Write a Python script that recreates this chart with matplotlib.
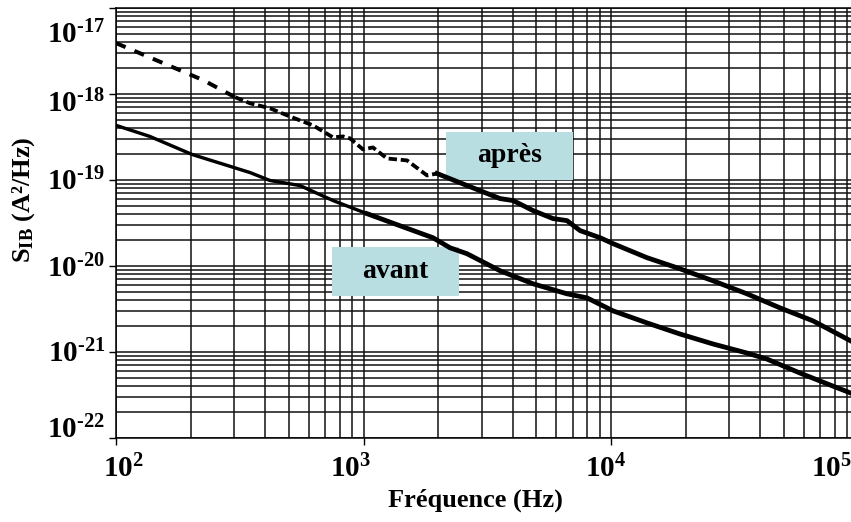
import numpy as np
import matplotlib
matplotlib.use("Agg")
import matplotlib.pyplot as plt
from matplotlib.ticker import LogLocator, NullFormatter
from matplotlib.patches import Rectangle

# ---- data ----
freq_avant = [100, 137, 203, 348, 419, 553, 753, 1033, 1403, 1909, 2235, 2618,
              3562, 4843, 6640, 7998, 10190, 13970, 18990, 25830, 35420, 42660,
              58030, 78890, 93300]
psd_avant = [4.32e-19, 3.21e-19, 1.98e-19, 1.22e-19, 9.87e-20, 8.63e-20, 5.77e-20,
             4.06e-20, 2.94e-20, 2.13e-20, 1.63e-20, 1.39e-20, 8.81e-21, 6.21e-21,
             4.75e-21, 4.26e-21, 3.01e-21, 2.18e-21, 1.62e-21, 1.24e-21, 9.73e-22,
             8.28e-22, 5.69e-22, 4.01e-22, 3.32e-22]

freq_apres = [100, 225, 303, 348, 419, 491, 553, 625, 686, 753, 826, 882, 995,
              1092, 1244, 1499, 1806, 1982, 2618, 3562, 4018, 4843, 5834, 6640,
              7500, 9040, 10190, 13970, 18990, 25830, 35420, 48170, 65500, 93300]
psd_apres = [3.91e-18, 1.45e-18, 9.17e-19, 7.80e-19, 6.82e-19, 5.65e-19, 4.94e-19,
             4.32e-19, 3.68e-19, 3.13e-19, 3.21e-19, 3.05e-19, 2.27e-19, 2.39e-19,
             1.78e-19, 1.69e-19, 1.13e-19, 1.19e-19, 8.63e-20, 6.08e-20, 5.77e-20,
             4.41e-20, 3.56e-20, 3.37e-20, 2.58e-20, 2.13e-20, 1.82e-20, 1.25e-20,
             9.29e-21, 6.73e-21, 4.75e-21, 3.26e-21, 2.30e-21, 1.34e-21]

labels = ["après", "avant"]
x_ticks = [1e2, 1e3, 1e4, 1e5]
x_tick_labels = [r"$10^{2}$", r"$10^{3}$", r"$10^{4}$", r"$10^{5}$"]
y_ticks = [1e-22, 1e-21, 1e-20, 1e-19, 1e-18, 1e-17]
y_tick_labels = [r"$10^{\text{-22}}$", r"$10^{\text{-21}}$", r"$10^{\text{-20}}$",
                 r"$10^{\text{-19}}$", r"$10^{\text{-18}}$", r"$10^{\text{-17}}$"]
x_label = "Fréquence (Hz)"
y_label = r"$S_{IB}$ (A²/Hz)"

# ---- style ----
plt.rcParams["font.family"] = ["Liberation Serif", "DejaVu Serif"]
plt.rcParams["font.weight"] = "bold"
plt.rcParams["axes.labelweight"] = "bold"
plt.rcParams["mathtext.fontset"] = "custom"
plt.rcParams["mathtext.rm"] = "Liberation Serif:bold"
plt.rcParams["mathtext.it"] = "Liberation Serif:bold"
plt.rcParams["mathtext.bf"] = "Liberation Serif:bold"
plt.rcParams["mathtext.default"] = "rm"

W, H = 851, 522
fig = plt.figure(figsize=(W / 100, H / 100), dpi=100)
ax = fig.add_axes([116 / W, 84 / H, 735 / W, 430 / H])
ax.set_xscale("log")
ax.set_yscale("log")
ax.set_xlim(100, 10 ** (2 + 735 / 247.5))
ax.set_ylim(1e-22, 1e-17)

ax.set_xticks([t for t in x_ticks if t <= 1e4])
ax.set_yticks(y_ticks)
ax.xaxis.set_minor_locator(LogLocator(base=10, subs=np.arange(2, 10), numticks=20))
ax.yaxis.set_minor_locator(LogLocator(base=10, subs=np.arange(2, 10), numticks=20))
ax.xaxis.set_minor_formatter(NullFormatter())
ax.yaxis.set_minor_formatter(NullFormatter())
ax.set_xticklabels([])
ax.set_yticklabels([])

ax.grid(which="both", color="#111111", lw=1.1)
ax.set_axisbelow(True)
ax.tick_params(which="minor", length=0)
ax.tick_params(which="major", length=5, width=1.0, direction="out",
               top=False, right=False)
ax.spines["right"].set_visible(False)
for s in ["left", "bottom", "top"]:
    ax.spines[s].set_linewidth(1.1)

# tick labels, placed as in the reference (slightly irregular offsets)
x_off = [7, -13, -5, -27]
for t, lab, dx in zip(x_ticks, x_tick_labels, x_off):
    ax.annotate(lab, xy=(t, 0), xycoords=("data", "axes fraction"),
                xytext=(dx, -39), textcoords="offset pixels",
                ha="center", va="baseline", fontsize=21, annotation_clip=False)
y_off = [0, 10, 11, 10, 18, 35]
for t, lab, dy in zip(y_ticks, y_tick_labels, y_off):
    ax.annotate(lab, xy=(0, t), xycoords=("axes fraction", "data"),
                xytext=(-11, -dy), textcoords="offset pixels",
                ha="right", va="baseline", fontsize=21, annotation_clip=False)

# ---- curves ----
fa = np.array(freq_avant); pa = np.array(psd_avant)
fp = np.array(freq_apres); pp = np.array(psd_apres)
px2pt = 0.72

m1 = fa <= 1033
m2 = fa >= 1033
ax.plot(fa[m1], pa[m1], color="black", lw=3.4 * px2pt, zorder=4)
ax.plot(fa[m2], pa[m2], color="black", lw=4.8 * px2pt, zorder=4)

s1 = fp <= 303
s2 = (fp >= 303) & (fp <= 1982)
s3 = fp >= 1982
ax.plot(fp[s1], pp[s1], color="black", lw=4 * px2pt, ls=(0, (2.6, 2.4)),
        dash_capstyle="butt", zorder=4)
ax.plot(fp[s2], pp[s2], color="black", lw=3.8 * px2pt, ls=(0, (2.2, 1.0)),
        dash_capstyle="butt", zorder=4)
ax.plot(fp[s3], pp[s3], color="black", lw=4.8 * px2pt, zorder=4)

# ---- label boxes ----
box_color = "#b8dee2"
boxes = [(0.449, 0.600, 0.173, 0.112), (0.294, 0.330, 0.173, 0.114)]
for (x0, y0, w, h), txt in zip(boxes, labels):
    ax.add_patch(Rectangle((x0, y0), w, h, transform=ax.transAxes,
                           facecolor=box_color, edgecolor="none", zorder=3))
    ax.text(x0 + w / 2, y0 + h / 2, txt, transform=ax.transAxes,
            ha="center", va="center", fontsize=20, fontweight="bold", zorder=5)

ax.set_xlabel(x_label, fontsize=19, fontweight="bold")
ax.set_ylabel(y_label, fontsize=19, fontweight="bold")
ax.xaxis.set_label_coords((475 - 116) / 735, -(489 - 438) / 430)
ax.yaxis.set_label_coords((37 - 116) / 735, (438 - 200) / 430)

fig.savefig("out.png", dpi=100)
